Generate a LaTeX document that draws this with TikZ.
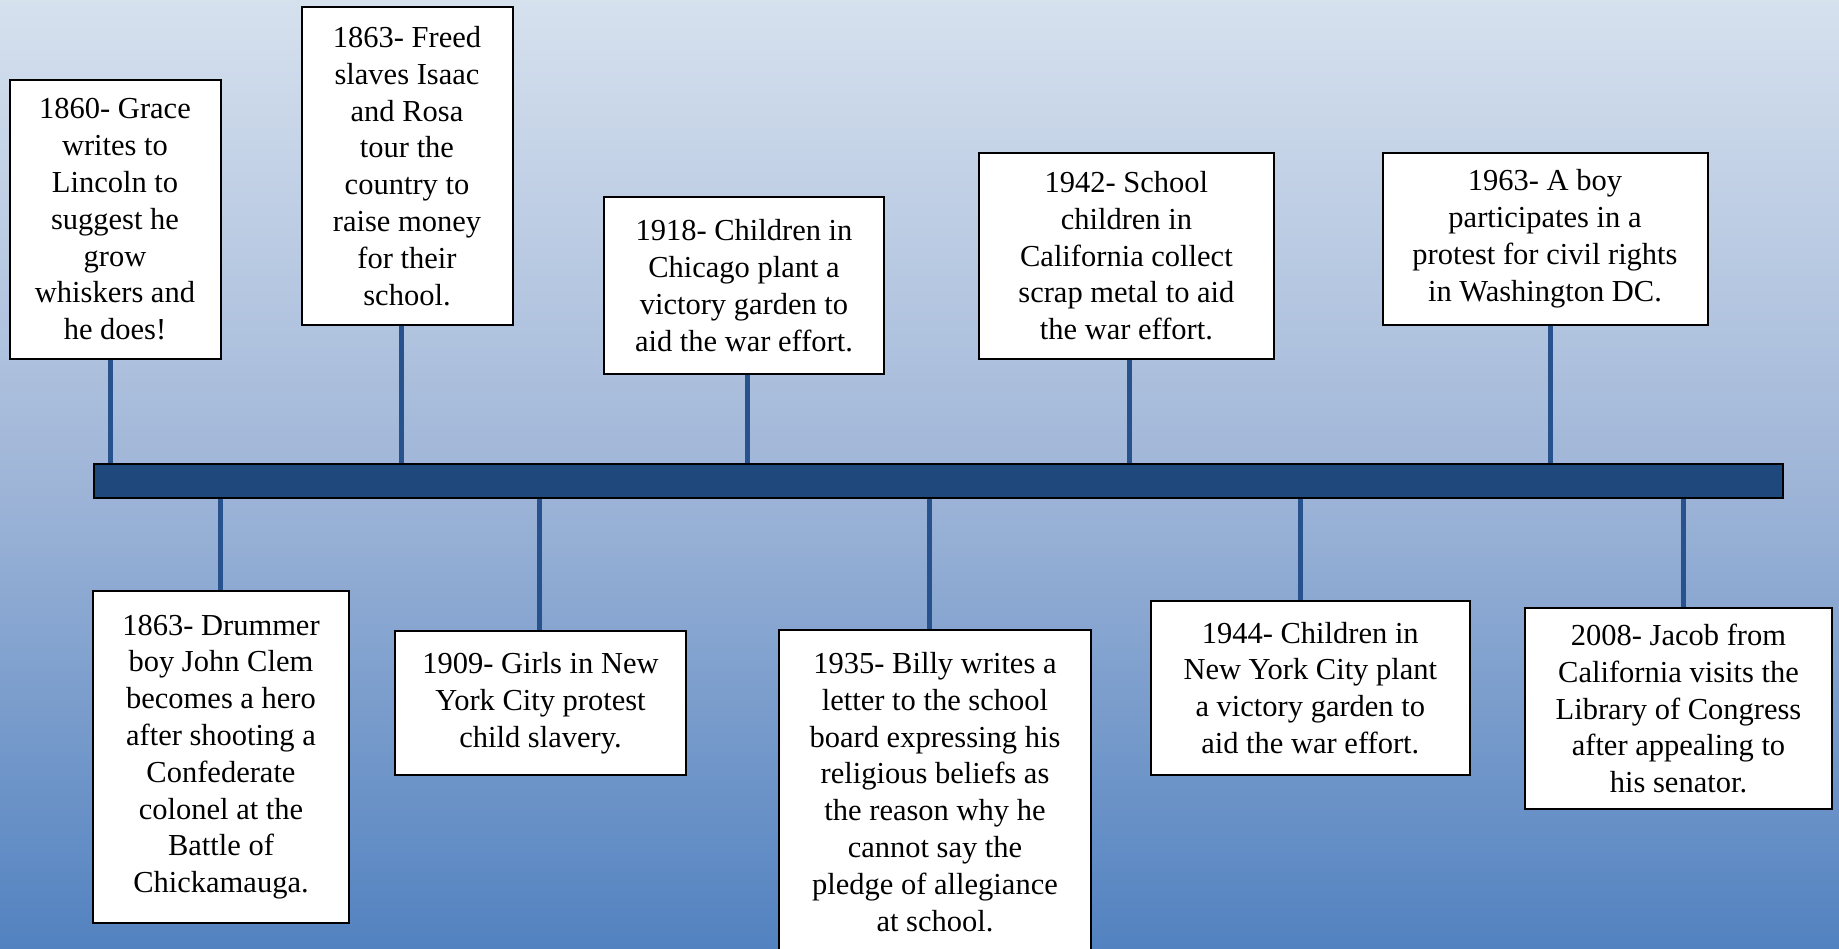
\documentclass[tikz,border=0pt]{standalone}
\usepackage{fontspec}
\setmainfont{Liberation Serif}
\definecolor{bgtop}{RGB}{214,225,238}
\definecolor{bgmid}{RGB}{160,182,216}
\definecolor{bgbot}{RGB}{82,130,192}
\definecolor{barblue}{RGB}{31,73,125}
\definecolor{connblue}{RGB}{40,82,142}
\pgfdeclareverticalshading{bgshade}{100bp}{color(0bp)=(bgbot); color(25bp)=(bgbot); color(50bp)=(bgmid); color(75bp)=(bgtop); color(100bp)=(bgtop)}
\pgfdeclarelayer{bglayer}
\pgfdeclarelayer{back}
\pgfsetlayers{bglayer,back,main}
\begin{document}
\begin{tikzpicture}[x=1pt,y=-1pt,
  evbox/.style={draw=black, line width=2pt, fill=white, align=center, inner sep=0pt,
    font=\fontsize{30.5}{36.8}\selectfont},
  conn/.style={draw=connblue, line width=5pt},
  tlbar/.style={draw=black, line width=2pt, fill=barblue, inner sep=0pt}]
\useasboundingbox (0,0) rectangle (1839,948);
\begin{pgfonlayer}{bglayer}
\shade[shading=bgshade] (0,0) rectangle (1839,948);
\end{pgfonlayer}

\node[tlbar, minimum width=1689pt, minimum height=34pt] (bar) at (938.5,481) {};

% upper boxes
\node[evbox, minimum width=211pt, minimum height=279pt] (b1) at (115,219.3)
  {1860- Grace\\writes to\\Lincoln to\\suggest he\\grow\\whiskers and\\he does!};
\node[evbox, minimum width=211pt, minimum height=318pt] (b2) at (407,166)
  {1863- Freed\\slaves Isaac\\and Rosa\\tour the\\country to\\raise money\\for their\\school.};
\node[evbox, minimum width=280pt, minimum height=177pt] (b3) at (744,285.5)
  {1918- Children in\\Chicago plant a\\victory garden to\\aid the war effort.};
\node[evbox, minimum width=295pt, minimum height=206pt] (b4) at (1126.4,255.7)
  {1942- School\\children in\\California collect\\scrap metal to aid\\the war effort.};
\node[evbox, minimum width=325pt, minimum height=172pt] (b5) at (1545,238.7)
  {1963- A boy\\participates in a\\protest for civil rights\\in Washington DC.};

% lower boxes
\node[evbox, minimum width=256pt, minimum height=332pt] (c1) at (221,757)
  {1863- Drummer\\boy John Clem\\becomes a hero\\after shooting a\\Confederate\\colonel at the\\Battle of\\Chickamauga.};
\node[evbox, minimum width=291pt, minimum height=144pt] (c2) at (540.5,703)
  {1909- Girls in New\\York City protest\\child slavery.};
\node[evbox, minimum width=312pt, minimum height=325pt] (c3) at (935,792)
  {1935- Billy writes a\\letter to the school\\board expressing his\\religious beliefs as\\the reason why he\\cannot say the\\pledge of allegiance\\at school.};
\node[evbox, minimum width=319pt, minimum height=174pt] (c4) at (1310.3,688)
  {1944- Children in\\New York City plant\\a victory garden to\\aid the war effort.};
\node[evbox, minimum width=307pt, minimum height=201pt] (c5) at (1678.5,708.5)
  {2008- Jacob from\\California visits the\\Library of Congress\\after appealing to\\his senator.};

\begin{pgfonlayer}{back}
\draw[conn] ([xshift=-5pt]b1.south) -- ([xshift=-5pt]b1.south |- bar.north);
\draw[conn] ([xshift=-6pt]b2.south) -- ([xshift=-6pt]b2.south |- bar.north);
\draw[conn] ([xshift=3pt]b3.south) -- ([xshift=3pt]b3.south |- bar.north);
\draw[conn] ([xshift=3pt]b4.south) -- ([xshift=3pt]b4.south |- bar.north);
\draw[conn] ([xshift=5pt]b5.south) -- ([xshift=5pt]b5.south |- bar.north);
\draw[conn] ([xshift=-1pt]c1.north) -- ([xshift=-1pt]c1.north |- bar.south);
\draw[conn] ([xshift=-1pt]c2.north) -- ([xshift=-1pt]c2.north |- bar.south);
\draw[conn] ([xshift=-6pt]c3.north) -- ([xshift=-6pt]c3.north |- bar.south);
\draw[conn] ([xshift=-10pt]c4.north) -- ([xshift=-10pt]c4.north |- bar.south);
\draw[conn] ([xshift=4.5pt]c5.north) -- ([xshift=4.5pt]c5.north |- bar.south);
\end{pgfonlayer}
\end{tikzpicture}
\end{document}
